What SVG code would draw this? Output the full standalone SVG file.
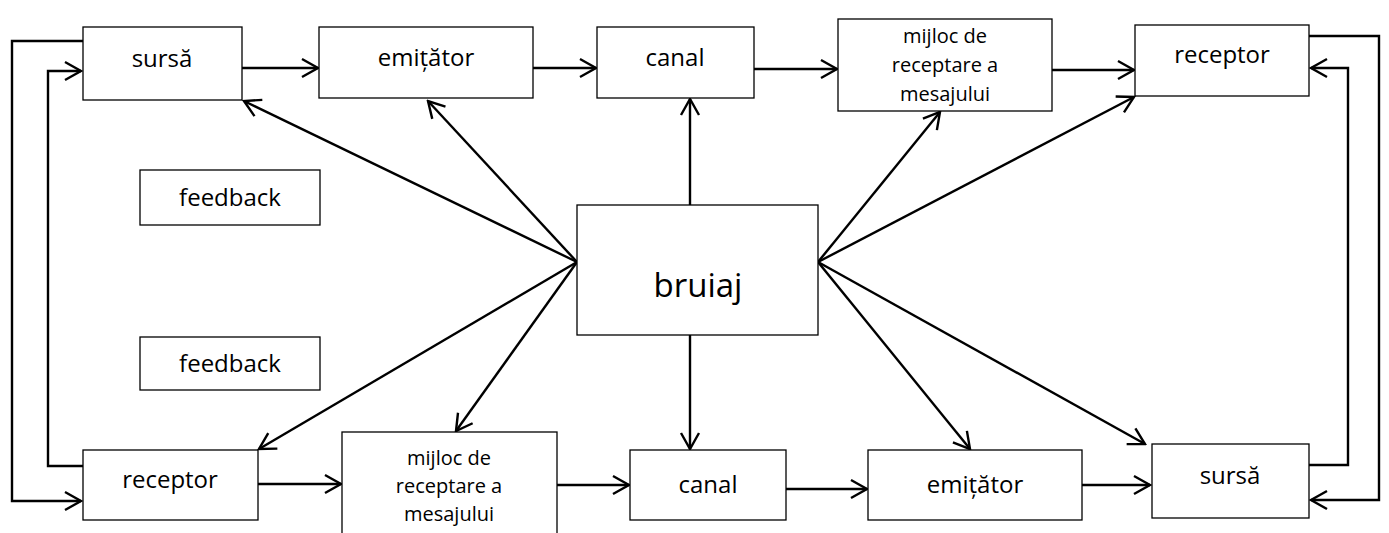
<svg xmlns="http://www.w3.org/2000/svg" width="1389" height="533" viewBox="0 0 1389 533">
<defs>
<style>
.box{fill:#fff;stroke:#000;stroke-width:1.3}
.t{font-family:"Open Sans","Liberation Sans",sans-serif;font-size:24px;fill:#000;text-anchor:middle}
.s{font-size:20px}
.b{font-size:33px}
.c{fill:none;stroke:#000;stroke-width:2.4}
</style>
<marker id="a" markerUnits="userSpaceOnUse" markerWidth="20" markerHeight="22" refX="18" refY="11" orient="auto">
<path d="M2,2 L18,11 L2,20" fill="none" stroke="#000" stroke-width="2.4"/>
</marker>
</defs>
<g id="connectors" class="c">
<polyline class="c" points="83,41 12,41 12,501 81,501" marker-end="url(#a)"/>
<polyline class="c" points="83,466 48,466 48,71 81,71" marker-end="url(#a)"/>
<polyline class="c" points="1309,36 1379,36 1379,500 1311,500" marker-end="url(#a)"/>
<polyline class="c" points="1309,465 1348,465 1348,68 1311,68" marker-end="url(#a)"/>
<line class="c" x1="242" y1="68" x2="318" y2="68" marker-end="url(#a)"/>
<line class="c" x1="533" y1="68" x2="596" y2="68" marker-end="url(#a)"/>
<line class="c" x1="754" y1="69" x2="837" y2="69" marker-end="url(#a)"/>
<line class="c" x1="1052" y1="70" x2="1134" y2="70" marker-end="url(#a)"/>
<line class="c" x1="258" y1="484" x2="341" y2="484" marker-end="url(#a)"/>
<line class="c" x1="557" y1="485" x2="629" y2="485" marker-end="url(#a)"/>
<line class="c" x1="786" y1="489" x2="867" y2="489" marker-end="url(#a)"/>
<line class="c" x1="1082" y1="485" x2="1150" y2="485" marker-end="url(#a)"/>
<line class="c" x1="577" y1="262" x2="244" y2="101" marker-end="url(#a)"/>
<line class="c" x1="577" y1="262" x2="428" y2="101" marker-end="url(#a)"/>
<line class="c" x1="577" y1="262" x2="259" y2="449" marker-end="url(#a)"/>
<line class="c" x1="577" y1="262" x2="456" y2="431" marker-end="url(#a)"/>
<line class="c" x1="690" y1="205" x2="690" y2="99" marker-end="url(#a)"/>
<line class="c" x1="690" y1="335" x2="690" y2="449" marker-end="url(#a)"/>
<line class="c" x1="818" y1="262" x2="940" y2="112" marker-end="url(#a)"/>
<line class="c" x1="818" y1="262" x2="1134" y2="97" marker-end="url(#a)"/>
<line class="c" x1="818" y1="262" x2="970" y2="449" marker-end="url(#a)"/>
<line class="c" x1="818" y1="262" x2="1145" y2="444" marker-end="url(#a)"/>
</g>
<g id="sursa1"><rect class="box" x="83" y="27" width="159" height="73"/><text class="t" x="162" y="67">sursă</text></g>
<g id="emitator1"><rect class="box" x="319" y="27" width="214" height="71"/><text class="t" x="426" y="66">emițător</text></g>
<g id="canal1"><rect class="box" x="597" y="27" width="157" height="71"/><text class="t" x="675" y="66">canal</text></g>
<g id="mijloc1"><rect class="box" x="838" y="19" width="214" height="92"/><text class="t s" x="945" y="43">mijloc de</text><text class="t s" x="945" y="72">receptare a</text><text class="t s" x="945" y="101">mesajului</text></g>
<g id="receptor1"><rect class="box" x="1135" y="25" width="174" height="71"/><text class="t" x="1222" y="63">receptor</text></g>
<g id="feedback1"><rect class="box" x="140" y="170" width="180" height="55"/><text class="t" x="230" y="206">feedback</text></g>
<g id="feedback2"><rect class="box" x="140" y="337" width="180" height="53"/><text class="t" x="230" y="372">feedback</text></g>
<g id="bruiaj"><rect class="box" x="577" y="205" width="241" height="130"/><text class="t b" x="698" y="297">bruiaj</text></g>
<g id="receptor2"><rect class="box" x="83" y="450" width="175" height="70"/><text class="t" x="170" y="488">receptor</text></g>
<g id="mijloc2"><rect class="box" x="342" y="432" width="215" height="110"/><text class="t s" x="449" y="465">mijloc de</text><text class="t s" x="449" y="493">receptare a</text><text class="t s" x="449" y="521">mesajului</text></g>
<g id="canal2"><rect class="box" x="630" y="450" width="156" height="70"/><text class="t" x="708" y="493">canal</text></g>
<g id="emitator2"><rect class="box" x="868" y="450" width="214" height="70"/><text class="t" x="975" y="493">emițător</text></g>
<g id="sursa2"><rect class="box" x="1152" y="444" width="157" height="74"/><text class="t" x="1230" y="484">sursă</text></g>
</svg>
